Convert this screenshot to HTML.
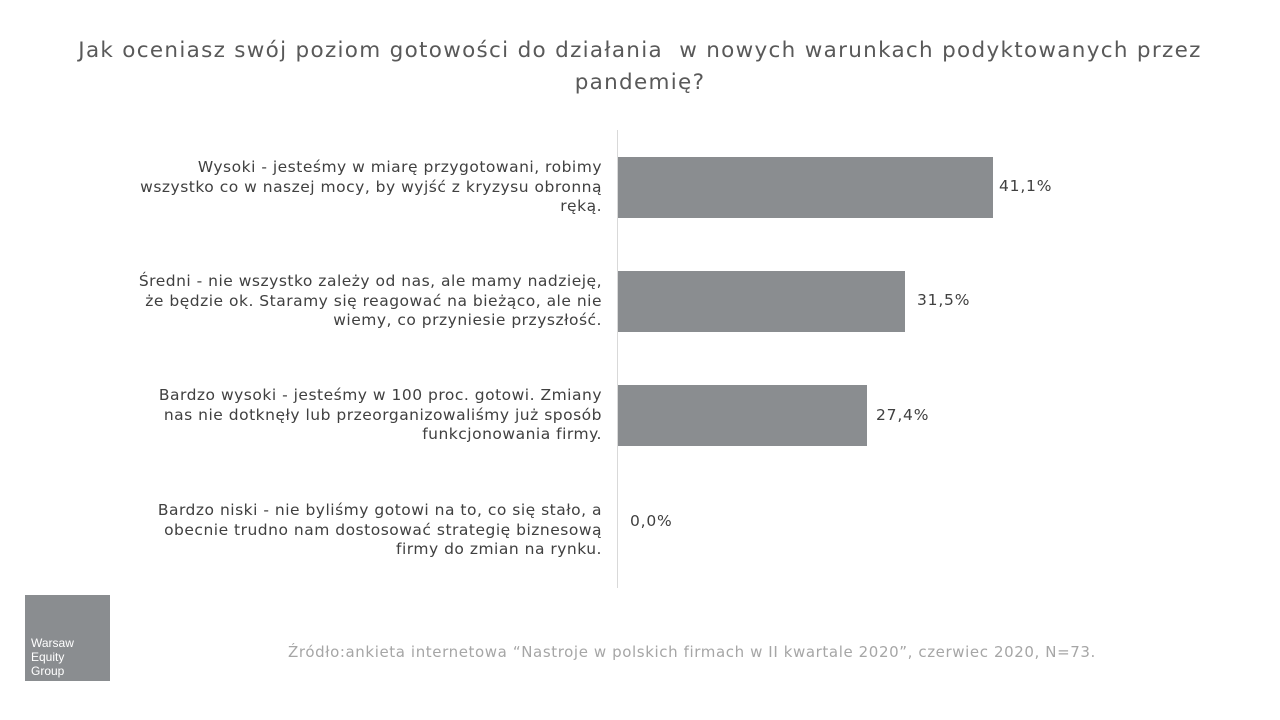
<!DOCTYPE html>
<html><head><meta charset="utf-8"><style>
body{margin:0;width:1280px;height:720px;background:#fff;font-family:"DejaVu Sans","Liberation Sans",sans-serif;position:relative;overflow:hidden}
.t{position:absolute;left:0;width:1280px;text-align:center;color:#595959;font-size:21.5px;letter-spacing:1.3px;line-height:32px;top:35px;white-space:nowrap}
.l{position:absolute;right:678px;width:560px;text-align:right;color:#404040;font-size:15.5px;letter-spacing:0.5px;line-height:19.5px;white-space:nowrap}
.b{position:absolute;left:618px;background:#8a8d90;height:61px}
.v{position:absolute;color:#404040;font-size:15.5px;letter-spacing:0.8px}
</style></head><body>
<div class="t">Jak oceniasz swój poziom gotowości do działania&nbsp; w nowych warunkach podyktowanych przez<br>pandemię?</div>
<div style="position:absolute;left:617px;top:130px;width:1px;height:458px;background:#d9d9d9"></div>
<div class="l" style="top:158px">Wysoki - jesteśmy w miarę przygotowani, robimy<br>wszystko co w naszej mocy, by wyjść z kryzysu obronną<br>ręką.</div>
<div class="l" style="top:272px">Średni - nie wszystko zależy od nas, ale mamy nadzieję,<br>że będzie ok. Staramy się reagować na bieżąco, ale nie<br>wiemy, co przyniesie przyszłość.</div>
<div class="l" style="top:386px">Bardzo wysoki - jesteśmy w 100 proc. gotowi. Zmiany<br>nas nie dotknęły lub przeorganizowaliśmy już sposób<br>funkcjonowania firmy.</div>
<div class="l" style="top:501px">Bardzo niski - nie byliśmy gotowi na to, co się stało, a<br>obecnie trudno nam dostosować strategię biznesową<br>firmy do zmian na rynku.</div>
<div class="b" style="top:157px;width:375px"></div>
<div class="b" style="top:271px;width:287px"></div>
<div class="b" style="top:385px;width:249px"></div>
<div class="v" style="left:999px;top:177px">41,1%</div>
<div class="v" style="left:917px;top:291px">31,5%</div>
<div class="v" style="left:876px;top:406px">27,4%</div>
<div class="v" style="left:630px;top:512px">0,0%</div>
<div style="position:absolute;left:25px;top:595px;width:85px;height:86px;background:#8a8d90;color:#fff;font-family:'Liberation Sans',sans-serif;font-size:12px;line-height:14px;box-sizing:border-box;padding:41px 0 0 6px">Warsaw<br>Equity<br>Group</div>
<div style="position:absolute;left:288px;top:643px;color:#a6a6a6;font-size:15px;letter-spacing:0.6px;white-space:nowrap">Źródło:ankieta internetowa “Nastroje w polskich firmach w II kwartale 2020”, czerwiec 2020, N=73.</div>
</body></html>
